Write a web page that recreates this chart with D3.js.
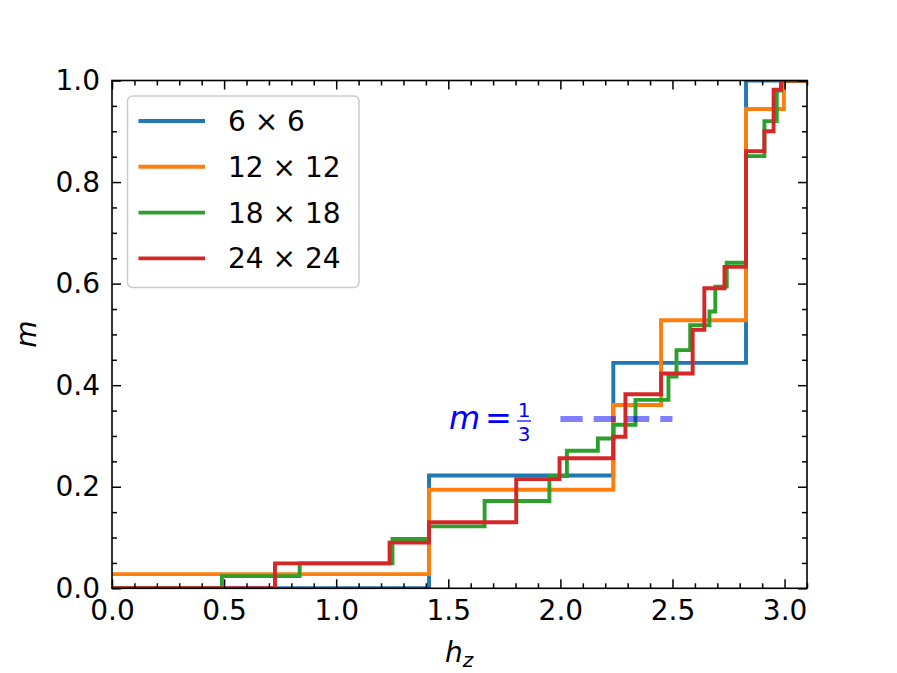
<!DOCTYPE html>
<html>
<head>
<meta charset="utf-8">
<script src="https://cdn.jsdelivr.net/npm/d3@7"></script>
<style>
  body { margin: 0; background: #fff; }
  text { font-family: "DejaVu Sans", sans-serif; }
</style>
</head>
<body>
<div id="grafico"></div>
<script>
// pasos de magnetizacion: h donde empieza cada escalon y su valor de m
const h6 = [0, 1.414, 2.236, 2.828, 3.1];
const m6 = [0, 0.222, 0.444, 1.0, 1.0];

const h12 = [0, 1.414, 2.236, 2.449, 2.828, 2.997, 3.1];
const m12 = [0.028, 0.194, 0.361, 0.528, 0.944, 1.0, 1.0];

const h18 = [0, 0.490, 0.837, 1.251, 1.414, 1.662, 1.951, 2.029, 2.167, 2.237, 2.335,
    2.482, 2.518, 2.579, 2.665, 2.691, 2.742, 2.828, 2.910, 2.965, 2.985, 3.1];
const m18 = [0, 0.024, 0.049, 0.097, 0.122, 0.172, 0.221, 0.271, 0.295, 0.322, 0.371,
    0.417, 0.469, 0.518, 0.545, 0.594, 0.641, 0.851, 0.920, 0.980, 1.0, 1.0];

const h24 = [0, 0.727, 1.238, 1.414, 1.803, 1.996, 2.236, 2.290, 2.449, 2.590, 2.642,
    2.732, 2.828, 2.910, 2.951, 2.984, 3.1];
const m24 = [0, 0.049, 0.090, 0.130, 0.215, 0.256, 0.2985, 0.382, 0.423, 0.509, 0.591,
    0.633, 0.861, 0.900, 0.982, 1.0, 1.0];

const etiquetas = ["6 \u00d7 6", "12 \u00d7 12", "18 \u00d7 18", "24 \u00d7 24"];
const colores = ["#1f77b4", "#ff7f0e", "#2ca02c", "#d62728"];

const mTercio = 1 / 3;
const hTercio = [2.0, 2.5];

const ancho = 897, alto = 673;
const margen = { izq: 112, der: 807, arr: 80.5, aba: 588.3 };

const x = d3.scaleLinear().domain([0, 3.1]).range([margen.izq, margen.der]);
const y = d3.scaleLinear().domain([0, 1]).range([margen.aba, margen.arr]);

const $svg = d3.select("#grafico")
    .append("svg")
    .attr("width", ancho)
    .attr("height", alto);

$svg.append("defs").append("clipPath")
    .attr("id", "recorte")
    .append("rect")
    .attr("x", margen.izq).attr("y", margen.arr)
    .attr("width", margen.der - margen.izq)
    .attr("height", margen.aba - margen.arr);

const series = [[h6, m6], [h12, m12], [h18, m18], [h24, m24]];

const linea = d3.line()
    .x(d => x(d[0]))
    .y(d => y(d[1]))
    .curve(d3.curveStepAfter);

const gLineas = $svg.append("g").attr("clip-path", "url(#recorte)");

series.forEach(([hs, ms], i) => {
    gLineas.append("path")
        .datum(hs.map((h, k) => [h, ms[k]]))
        .attr("d", linea)
        .attr("fill", "none")
        .attr("stroke", colores[i])
        .attr("stroke-width", 3.9)
        .attr("stroke-linejoin", "miter")
        .attr("stroke-linecap", "butt");
});

// linea discontinua m = 1/3
gLineas.append("line")
    .attr("x1", x(hTercio[0])).attr("x2", x(hTercio[1]))
    .attr("y1", y(mTercio)).attr("y2", y(mTercio))
    .attr("stroke", "#0000ff")
    .attr("stroke-opacity", 0.5)
    .attr("stroke-width", 6)
    .attr("stroke-dasharray", "22.3,11");

// anotacion
const anot = $svg.append("g").attr("fill", "#0000ff");
anot.append("text")
    .attr("x", 449).attr("y", 428.5)
    .attr("font-size", 32).attr("font-style", "italic")
    .text("m");
anot.append("text")
    .attr("x", 485).attr("y", 428.5)
    .attr("font-size", 32)
    .text("=");
anot.append("text")
    .attr("x", 524).attr("y", 417)
    .attr("font-size", 20).attr("text-anchor", "middle")
    .text("1");
anot.append("text")
    .attr("x", 524).attr("y", 441)
    .attr("font-size", 20).attr("text-anchor", "middle")
    .text("3");
anot.append("line")
    .attr("x1", 517).attr("x2", 531)
    .attr("y1", 421).attr("y2", 421)
    .attr("stroke", "#0000ff").attr("stroke-width", 1.2);

// ejes con marcas hacia dentro
const fmt = d3.format(".1f");
const mayX = d3.range(0, 3.01, 0.5);
const menX = d3.range(0, 3.11, 0.1).filter(v => Math.abs(v * 2 - Math.round(v * 2)) > 1e-6);
const mayY = d3.range(0, 1.01, 0.2);
const menY = d3.range(0, 1.01, 0.05).filter(v => Math.abs(v * 5 - Math.round(v * 5)) > 1e-6);

const ejes = [
    [() => d3.axisBottom(x), `translate(0,${margen.aba})`, mayX, menX, true],
    [() => d3.axisTop(x), `translate(0,${margen.arr})`, mayX, menX, false],
    [() => d3.axisLeft(y), `translate(${margen.izq},0)`, mayY, menY, true],
    [() => d3.axisRight(y), `translate(${margen.der},0)`, mayY, menY, false]
];

ejes.forEach(([hacerEje, tr, may, men, conTexto]) => {
    const gMen = $svg.append("g").attr("transform", tr)
        .call(hacerEje().tickValues(men).tickSize(-5).tickFormat(""));
    const gMay = $svg.append("g").attr("transform", tr)
        .call(hacerEje().tickValues(may).tickSize(-9).tickPadding(12)
            .tickFormat(conTexto ? fmt : ""));
    [gMen, gMay].forEach(g => {
        g.select(".domain").remove();
        g.selectAll("line").attr("stroke", "#000").attr("stroke-width", 1.5);
        g.selectAll("text")
            .attr("font-size", 28)
            .attr("fill", "#000")
            .attr("font-family", "DejaVu Sans");
    });
});

$svg.append("rect")
    .attr("x", margen.izq).attr("y", margen.arr)
    .attr("width", margen.der - margen.izq)
    .attr("height", margen.aba - margen.arr)
    .attr("fill", "none")
    .attr("stroke", "#000")
    .attr("stroke-width", 1.6);

// titulos de ejes
$svg.append("text")
    .attr("transform", "translate(36,334) rotate(-90)")
    .attr("text-anchor", "middle")
    .attr("font-size", 28).attr("font-style", "italic")
    .text("m");

const etX = $svg.append("text")
    .attr("x", 459).attr("y", 662)
    .attr("text-anchor", "middle")
    .attr("font-size", 28).attr("font-style", "italic");
etX.append("tspan").text("h");
etX.append("tspan").attr("font-size", 20).attr("dy", 5).text("z");

// leyenda
const leyenda = $svg.append("g");
leyenda.append("rect")
    .attr("x", 127.5).attr("y", 96)
    .attr("width", 231.5).attr("height", 191.5)
    .attr("rx", 5).attr("ry", 5)
    .attr("fill", "#fff").attr("fill-opacity", 0.8)
    .attr("stroke", "#cccccc").attr("stroke-width", 1.5);

etiquetas.forEach((et, i) => {
    const yy = 121 + i * 45.8;
    leyenda.append("line")
        .attr("x1", 138.5).attr("x2", 205)
        .attr("y1", yy).attr("y2", yy)
        .attr("stroke", colores[i]).attr("stroke-width", 3.9);
    leyenda.append("text")
        .attr("x", 228).attr("y", yy + 10)
        .attr("font-size", 28)
        .text(et);
});
</script>
</body>
</html>
